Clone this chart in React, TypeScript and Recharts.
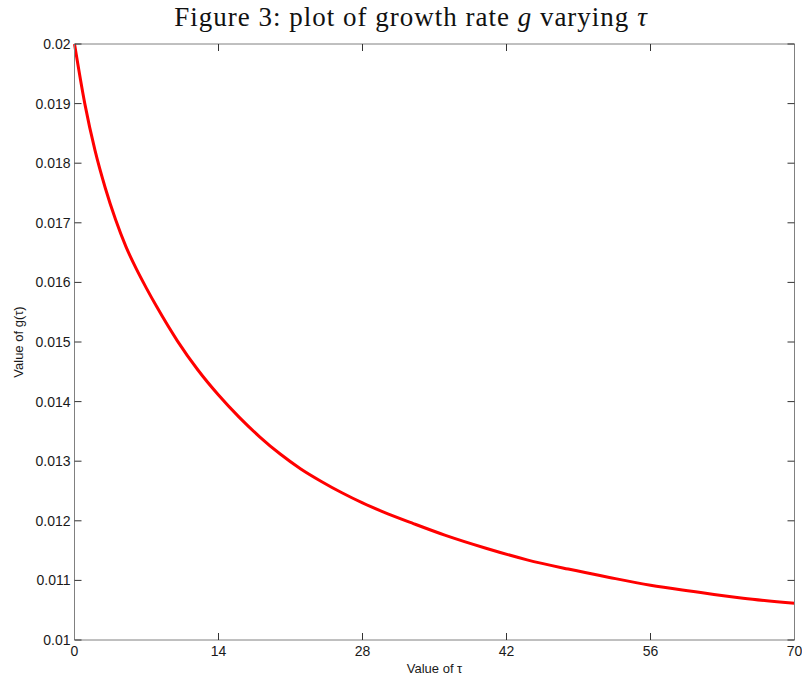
import React from "react";
import { Line, LineChart, XAxis, YAxis } from "recharts";

// values of tau
const TAU = [0, 1, 2, 3, 4, 5, 6, 7, 8, 10, 12, 14, 16, 18, 20, 22, 24, 26, 28, 30, 33, 36, 40, 44, 48, 52, 56, 60, 65, 70];
// growth rate g(tau)
const G = [
  0.02, 0.019, 0.01821, 0.01758, 0.01705, 0.0166, 0.01623, 0.0159, 0.01559, 0.01502,
  0.01453, 0.01411, 0.01374, 0.01341, 0.01312, 0.01287, 0.01266, 0.01247, 0.0123, 0.01215,
  0.01195, 0.01176, 0.01154, 0.011345, 0.01119, 0.01105, 0.01092, 0.010818, 0.0107, 0.010615,
];

const X_TICKS = [0, 14, 28, 42, 56, 70];
const Y_TICKS = [0.01, 0.011, 0.012, 0.013, 0.014, 0.015, 0.016, 0.017, 0.018, 0.019, 0.02];

const data = TAU.map((tau, i) => ({ tau, g: G[i] }));

const BOX = "#808080";
const TICK = "#333333";
const TEXT = "#1a1a1a";
const FONT = "'Liberation Sans', Arial, sans-serif";
const tickText = { fill: TEXT, fontSize: 14, fontFamily: FONT };
const noLabel = () => "";

export default function App() {
  return (
    <div style={{ position: "absolute", left: 0, top: 0, width: 802, height: 677, background: "#fff" }}>
      <div
        style={{
          position: "absolute",
          left: 0,
          top: 2,
          width: 822,
          textAlign: "center",
          fontFamily: "'Liberation Serif', serif",
          fontSize: 27,
          letterSpacing: 1,
          color: "#111",
        }}
      >
        Figure 3: plot of growth rate <i>g</i> varying <i>τ</i>
      </div>
      <LineChart
        width={802}
        height={677}
        data={data}
        margin={{ top: 44, right: 7.5, bottom: 0, left: 0 }}
        style={{ position: "absolute", left: 0, top: 0 }}
      >
        <XAxis
          xAxisId="main"
          dataKey="tau"
          type="number"
          domain={[0, 70]}
          ticks={X_TICKS}
          height={37}
          tickSize={-7}
          tickMargin={13}
          tickLine={{ stroke: TICK }}
          axisLine={{ stroke: BOX }}
          tick={tickText}
          label={{
            content: ({ viewBox }: any) => (
              <text
                x={viewBox.x + viewBox.width / 2}
                y={viewBox.y + 33}
                textAnchor="middle"
                fontFamily={FONT}
                fontSize={13}
                fill={TEXT}
              >
                Value of τ
              </text>
            ),
          }}
        />
        <XAxis
          xAxisId="top"
          dataKey="tau"
          type="number"
          domain={[0, 70]}
          ticks={X_TICKS}
          orientation="top"
          mirror
          tickSize={7}
          tickFormatter={noLabel}
          tickLine={{ stroke: TICK }}
          axisLine={{ stroke: BOX }}
        />
        <YAxis
          yAxisId="main"
          dataKey="g"
          type="number"
          domain={[0.01, 0.02]}
          ticks={Y_TICKS}
          width={74.5}
          tickSize={-7}
          tickMargin={11}
          tickLine={{ stroke: TICK }}
          axisLine={{ stroke: BOX }}
          tick={tickText}
          tickFormatter={(v: number) => String(v)}
          label={{
            content: ({ viewBox }: any) => {
              const cx = 18;
              const cy = viewBox.y + viewBox.height / 2;
              return (
                <text
                  x={cx}
                  y={cy}
                  transform={`rotate(-90 ${cx} ${cy})`}
                  textAnchor="middle"
                  dominantBaseline="central"
                  fontFamily={FONT}
                  fontSize={13}
                  fill={TEXT}
                >
                  Value of g(τ)
                </text>
              );
            },
          }}
        />
        <YAxis
          yAxisId="right"
          dataKey="g"
          type="number"
          domain={[0.01, 0.02]}
          ticks={Y_TICKS}
          orientation="right"
          mirror
          tickSize={7}
          tickFormatter={noLabel}
          tickLine={{ stroke: TICK }}
          axisLine={{ stroke: BOX }}
        />
        <Line
          xAxisId="main"
          yAxisId="main"
          dataKey="g"
          type="monotone"
          stroke="#ff0000"
          strokeWidth={3}
          dot={false}
          isAnimationActive={false}
        />
      </LineChart>
    </div>
  );
}
